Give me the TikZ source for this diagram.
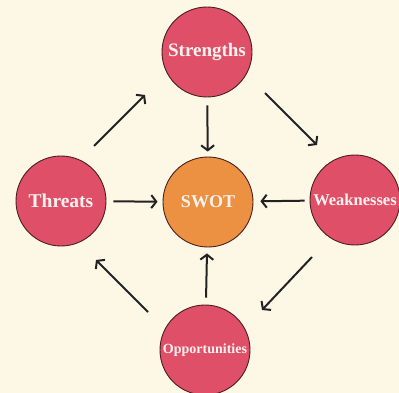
\documentclass[tikz,border=0pt]{standalone}
\usepackage{fontspec}
\setmainfont{Liberation Serif}
\usetikzlibrary{arrows.meta,calc}
\definecolor{paper}{HTML}{FDF8E6}
\definecolor{rosefill}{HTML}{DF5068}
\definecolor{orangefill}{HTML}{EC9142}
\definecolor{rim}{HTML}{4A1C20}
\definecolor{ink}{HTML}{222222}
\definecolor{label}{HTML}{FCF2F0}
\tikzset{
  bubble/.style={circle, draw=rim, line width=0.9pt, fill=rosefill,
    minimum size=90pt, inner sep=0pt, text=label, font=\bfseries},
  core/.style={bubble, fill=orangefill},
  arr/.style={draw=ink, line width=2pt,
    -{Straight Barb[length=5pt,width=13pt,line width=2pt]}},
}
\begin{document}
\begin{tikzpicture}[x=1pt,y=-1pt]
  % page and background
  \fill[paper] (0,0) rectangle (399,393);
  \useasboundingbox (0,0) rectangle (399,393);

  % the five circles
  \node[core]   (swot)  at (208,202) {\fontsize{18}{20}\selectfont SWOT};
  \node[bubble] (str)   at (207,52)  {\fontsize{19}{21}\selectfont Strengths};
  \node[bubble] (wea)   at (355,200) {\fontsize{16.5}{18}\selectfont Weaknesses};
  \node[bubble] (thr)   at (61,201)  {\fontsize{19.5}{21}\selectfont Threats};
  \node[bubble] (opp)   at (205,350) {\fontsize{14}{16}\selectfont Opportunities};

  % arrows into the centre
  \draw[arr, shorten <=8pt, shorten >=5pt] (str) -- (swot);
  \draw[arr, shorten <=7pt, shorten >=5pt] (thr) -- (swot);
  \draw[arr, shorten <=5pt, shorten >=7pt] (wea) -- (swot);
  \draw[arr, shorten <=7pt, shorten >=6pt] (opp) -- (swot);

  % clockwise cycle around the outside
  \draw[arr] ($(thr)+(33,-55)$) -- ($(str)+(-62,43)$);
  \draw[arr] ($(str)+(58,41)$)  -- ($(wea)+(-38,-55)$);
  \draw[arr] ($(wea)+(-43,57)$) -- ($(opp)+(57,-40)$);
  \draw[arr] ($(opp)+(-57,-38)$) -- ($(thr)+(35,59)$);
\end{tikzpicture}
\end{document}
